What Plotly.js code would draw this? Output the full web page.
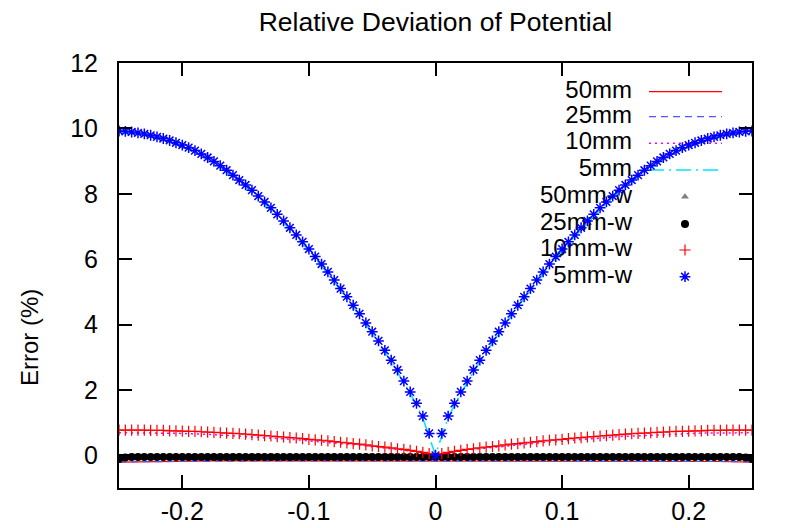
<!DOCTYPE html>
<html>
<head>
<meta charset="utf-8">
<script src="https://cdn.plot.ly/plotly-3.0.1.min.js"></script>
<style>
  html, body { margin: 0; padding: 0; background: #fff; }
  #plot { width: 785px; height: 528px; }
</style>
</head>
<body>
<div id="plot"></div>
<script>
// Probe positions (m) shared by the sampled series
const xPos = [-0.25,-0.245,-0.24,-0.235,-0.23,-0.225,-0.22,-0.215,-0.21,-0.205,
  -0.2,-0.195,-0.19,-0.185,-0.18,-0.175,-0.17,-0.165,-0.16,-0.155,
  -0.15,-0.145,-0.14,-0.135,-0.13,-0.125,-0.12,-0.115,-0.11,-0.105,
  -0.1,-0.095,-0.09,-0.085,-0.08,-0.075,-0.07,-0.065,-0.06,-0.055,
  -0.05,-0.045,-0.04,-0.035,-0.03,-0.025,-0.02,-0.015,-0.01,-0.005,
  0,
  0.005,0.01,0.015,0.02,0.025,0.03,0.035,0.04,0.045,0.05,
  0.055,0.06,0.065,0.07,0.075,0.08,0.085,0.09,0.095,0.1,
  0.105,0.11,0.115,0.12,0.125,0.13,0.135,0.14,0.145,0.15,
  0.155,0.16,0.165,0.17,0.175,0.18,0.185,0.19,0.195,0.2,
  0.205,0.21,0.215,0.22,0.225,0.23,0.235,0.24,0.245,0.25];

// Coarser grid for the two flat reference curves
const xCoarse = [-0.25,-0.225,-0.2,-0.175,-0.15,-0.125,-0.1,-0.075,-0.05,-0.025,0,
  0.025,0.05,0.075,0.1,0.125,0.15,0.175,0.2,0.225,0.25];

const err50 = [-0.21,-0.19,-0.18,-0.17,-0.17,-0.17,-0.17,-0.17,-0.17,-0.17,-0.17,
  -0.17,-0.17,-0.17,-0.17,-0.17,-0.17,-0.17,-0.18,-0.19,-0.21];
const err25 = [-0.2,-0.19,-0.18,-0.17,-0.17,-0.17,-0.17,-0.17,-0.17,-0.17,-0.17,
  -0.17,-0.17,-0.17,-0.17,-0.17,-0.17,-0.17,-0.18,-0.19,-0.2];

const err10 = [0.69,0.69,0.69,0.69,0.69,0.69,0.68,0.68,0.68,0.67,
  0.67,0.66,0.66,0.65,0.64,0.63,0.62,0.61,0.60,0.59,
  0.58,0.57,0.56,0.54,0.53,0.51,0.50,0.49,0.48,0.46,
  0.44,0.42,0.41,0.40,0.38,0.36,0.34,0.32,0.31,0.29,
  0.26,0.24,0.22,0.21,0.18,0.16,0.13,0.11,0.08,0.04,
  0.00,
  0.04,0.08,0.11,0.13,0.16,0.18,0.21,0.22,0.24,0.26,
  0.29,0.31,0.32,0.34,0.36,0.38,0.40,0.41,0.42,0.44,
  0.46,0.48,0.49,0.50,0.51,0.53,0.54,0.56,0.57,0.58,
  0.59,0.60,0.61,0.62,0.63,0.64,0.65,0.66,0.66,0.67,
  0.67,0.68,0.68,0.68,0.69,0.69,0.69,0.69,0.69,0.69];

const err5 = [9.87,9.86,9.84,9.81,9.78,9.74,9.69,9.64,9.58,9.51,
  9.44,9.36,9.27,9.17,9.06,8.94,8.81,8.67,8.52,8.37,
  8.22,8.06,7.88,7.70,7.52,7.32,7.12,6.91,6.69,6.48,
  6.26,6.03,5.80,5.56,5.31,5.05,4.80,4.54,4.28,4.00,
  3.73,3.45,3.16,2.86,2.56,2.22,1.89,1.54,1.14,0.60,
  0.00,
  0.60,1.14,1.54,1.89,2.22,2.56,2.86,3.16,3.45,3.73,
  4.00,4.28,4.54,4.80,5.05,5.31,5.56,5.80,6.03,6.26,
  6.48,6.69,6.91,7.12,7.32,7.52,7.70,7.88,8.06,8.22,
  8.37,8.52,8.67,8.81,8.94,9.06,9.17,9.27,9.36,9.44,
  9.51,9.58,9.64,9.69,9.74,9.78,9.81,9.84,9.86,9.87];

const err50w = [-0.11,-0.07,-0.05,-0.05,-0.05,-0.05,-0.05,-0.05,-0.05,-0.05,
  -0.05,-0.05,-0.05,-0.05,-0.05,-0.05,-0.05,-0.05,-0.05,-0.05,
  -0.05,-0.05,-0.05,-0.05,-0.05,-0.05,-0.05,-0.05,-0.05,-0.05,
  -0.05,-0.05,-0.05,-0.05,-0.05,-0.05,-0.05,-0.05,-0.05,-0.05,
  -0.05,-0.05,-0.05,-0.05,-0.05,-0.05,-0.05,-0.05,-0.05,-0.05,
  -0.05,
  -0.05,-0.05,-0.05,-0.05,-0.05,-0.05,-0.05,-0.05,-0.05,-0.05,
  -0.05,-0.05,-0.05,-0.05,-0.05,-0.05,-0.05,-0.05,-0.05,-0.05,
  -0.05,-0.05,-0.05,-0.05,-0.05,-0.05,-0.05,-0.05,-0.05,-0.05,
  -0.05,-0.05,-0.05,-0.05,-0.05,-0.05,-0.05,-0.05,-0.05,-0.05,
  -0.05,-0.05,-0.05,-0.05,-0.05,-0.05,-0.05,-0.05,-0.07,-0.11];

const err25w = [-0.11,-0.07,-0.05,-0.05,-0.05,-0.05,-0.05,-0.05,-0.05,-0.05,
  -0.05,-0.05,-0.05,-0.05,-0.05,-0.05,-0.05,-0.05,-0.05,-0.05,
  -0.05,-0.05,-0.05,-0.05,-0.05,-0.05,-0.05,-0.05,-0.05,-0.05,
  -0.05,-0.05,-0.05,-0.05,-0.05,-0.05,-0.05,-0.05,-0.05,-0.05,
  -0.05,-0.05,-0.05,-0.05,-0.05,-0.05,-0.05,-0.05,-0.05,-0.05,
  -0.05,
  -0.05,-0.05,-0.05,-0.05,-0.05,-0.05,-0.05,-0.05,-0.05,-0.05,
  -0.05,-0.05,-0.05,-0.05,-0.05,-0.05,-0.05,-0.05,-0.05,-0.05,
  -0.05,-0.05,-0.05,-0.05,-0.05,-0.05,-0.05,-0.05,-0.05,-0.05,
  -0.05,-0.05,-0.05,-0.05,-0.05,-0.05,-0.05,-0.05,-0.05,-0.05,
  -0.05,-0.05,-0.05,-0.05,-0.05,-0.05,-0.05,-0.05,-0.07,-0.11];

const err10w = [0.77,0.77,0.77,0.77,0.77,0.76,0.76,0.76,0.75,0.75,
  0.74,0.73,0.73,0.72,0.71,0.70,0.69,0.68,0.67,0.66,
  0.65,0.63,0.62,0.60,0.59,0.57,0.56,0.54,0.53,0.51,
  0.49,0.47,0.46,0.44,0.42,0.40,0.38,0.36,0.34,0.32,
  0.29,0.27,0.25,0.23,0.20,0.18,0.15,0.12,0.09,0.05,
  0.00,
  0.05,0.09,0.12,0.15,0.18,0.20,0.23,0.25,0.27,0.29,
  0.32,0.34,0.36,0.38,0.40,0.42,0.44,0.46,0.47,0.49,
  0.51,0.53,0.54,0.56,0.57,0.59,0.60,0.62,0.63,0.65,
  0.66,0.67,0.68,0.69,0.70,0.71,0.72,0.73,0.73,0.74,
  0.75,0.75,0.76,0.76,0.76,0.77,0.77,0.77,0.77,0.77];

const err5w = [9.92,9.91,9.89,9.86,9.83,9.79,9.74,9.69,9.63,9.56,
  9.49,9.41,9.32,9.22,9.11,8.99,8.86,8.72,8.57,8.42,
  8.27,8.11,7.93,7.75,7.57,7.37,7.17,6.96,6.74,6.53,
  6.31,6.08,5.85,5.61,5.36,5.10,4.85,4.59,4.33,4.05,
  3.78,3.50,3.21,2.91,2.61,2.27,1.94,1.59,1.20,0.67,
  0.00,
  0.67,1.20,1.59,1.94,2.27,2.61,2.91,3.21,3.50,3.78,
  4.05,4.33,4.59,4.85,5.10,5.36,5.61,5.85,6.08,6.31,
  6.53,6.74,6.96,7.17,7.37,7.57,7.75,7.93,8.11,8.27,
  8.42,8.57,8.72,8.86,8.99,9.11,9.22,9.32,9.41,9.49,
  9.56,9.63,9.69,9.74,9.79,9.83,9.86,9.89,9.91,9.92];

const seriesNames = ['50mm', '25mm', '10mm', '5mm', '50mm-w', '25mm-w', '10mm-w', '5mm-w'];
const xTickVals = [-0.2, -0.1, 0, 0.1, 0.2];
const xTickText = ['-0.2', '-0.1', '0', '0.1', '0.2'];
const yTickVals = [0, 2, 4, 6, 8, 10, 12];
const yTickText = ['0', '2', '4', '6', '8', '10', '12'];

const FONT = '"Liberation Sans", Arial, sans-serif';

// Styles for each series, in drawing order
const styles = [
  {mode: 'lines', line: {color: '#ff0000', width: 1.2}},
  {mode: 'lines', line: {color: '#5555ff', width: 1.2, dash: '7px,5px'}},
  {mode: 'lines', line: {color: '#ff00ff', width: 1.5, dash: '2px,4px'}},
  {mode: 'lines', line: {color: '#00e8ff', width: 1.6, dash: '15px,5px,2px,5px'}},
  {mode: 'markers', marker: {symbol: 'triangle-up', size: 7, color: '#808080'}},
  {mode: 'markers', marker: {symbol: 'circle', size: 8, color: '#000000'}},
  {mode: 'markers', marker: {symbol: 'cross-thin-open', size: 8, color: '#ff0000', line: {color: '#ff0000', width: 1.2}}},
  {mode: 'markers', marker: {symbol: 'asterisk-open', size: 9, color: '#0000ff', line: {color: '#0000ff', width: 1.5}}}
];

const seriesX = [xCoarse, xCoarse, xPos, xPos, xPos, xPos, xPos, xPos];
const seriesY = [err50, err25, err10, err5, err50w, err25w, err10w, err5w];

// Key: pixel-unit layer under the data (x: 119..752, y: 63..488 top-down)
const keyTextX = 632;
const keySampleX = [649, 722];
const keyMarkX = 685;
const keyRows = [91.7, 116.7, 143.3, 170, 196.7, 224, 250, 276.7];

const traces = [];
traces.push({
  x: keyRows.map(() => keyTextX), y: keyRows, text: seriesNames,
  mode: 'text', textposition: 'middle left',
  textfont: {family: FONT, size: 24, color: '#000'},
  xaxis: 'x', yaxis: 'y', hoverinfo: 'skip', showlegend: false
});
styles.forEach((s, i) => {
  const t = {xaxis: 'x', yaxis: 'y', hoverinfo: 'skip', showlegend: false, mode: s.mode};
  if (s.mode === 'lines') {
    t.x = keySampleX; t.y = [keyRows[i], keyRows[i]]; t.line = s.line;
  } else {
    t.x = [keyMarkX]; t.y = [keyRows[i]]; t.marker = s.marker;
  }
  traces.push(t);
});

// Data series on the chart axes
styles.forEach((s, i) => {
  const t = {x: seriesX[i], y: seriesY[i], name: seriesNames[i], mode: s.mode,
             xaxis: 'x2', yaxis: 'y2', showlegend: false};
  if (s.line) t.line = s.line;
  if (s.marker) t.marker = s.marker;
  traces.push(t);
});

const axisCommon = {
  ticks: 'inside', ticklen: 13, tickwidth: 2, tickcolor: '#000',
  showline: true, linewidth: 2, linecolor: '#000', mirror: 'ticks',
  showgrid: false, zeroline: false, fixedrange: true,
  tickfont: {family: FONT, size: 25, color: '#000'}
};

const layout = {
  width: 785, height: 528,
  margin: {l: 119, r: 33, t: 63, b: 40, pad: 0},
  paper_bgcolor: '#ffffff', plot_bgcolor: '#ffffff',
  showlegend: false,
  font: {family: FONT, size: 25, color: '#000'},
  title: {
    text: 'Relative Deviation of Potential',
    font: {family: FONT, size: 26.5, color: '#000'},
    x: 0.5, xref: 'paper', y: 1 - 22 / 528, yref: 'container', yanchor: 'middle'
  },
  xaxis: {range: [119, 752], visible: false, fixedrange: true},
  yaxis: {range: [488, 63], visible: false, fixedrange: true},
  xaxis2: Object.assign({}, axisCommon, {
    overlaying: 'x', anchor: 'y2', side: 'bottom', range: [-0.25, 0.25],
    tickmode: 'array', tickvals: xTickVals, ticktext: xTickText, ticklabelstandoff: 0
  }),
  yaxis2: Object.assign({}, axisCommon, {
    overlaying: 'y', anchor: 'x2', side: 'left', range: [-1, 12],
    tickmode: 'array', tickvals: yTickVals, ticktext: yTickText, ticklabelstandoff: 14
  }),
  annotations: [{
    text: 'Error (%)', textangle: -90, showarrow: false,
    xref: 'paper', yref: 'paper', x: (30 - 119) / 633, y: (488 - 338) / 425,
    xanchor: 'center', yanchor: 'middle',
    font: {family: FONT, size: 24, color: '#000'}
  }]
};

Plotly.newPlot('plot', traces, layout, {staticPlot: true, displayModeBar: false});
</script>
</body>
</html>
